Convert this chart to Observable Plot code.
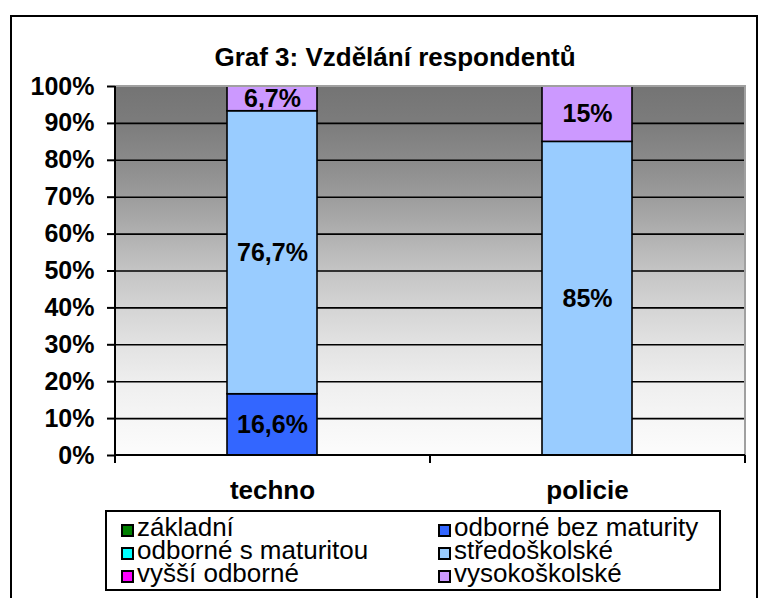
<!DOCTYPE html>
<html><head><meta charset="utf-8">
<script src="https://cdn.jsdelivr.net/npm/d3@7"></script>
<script src="https://cdn.jsdelivr.net/npm/@observablehq/plot@0.6"></script>
<style>
body{margin:0;background:#fff;font-family:Arial,"Liberation Sans",sans-serif;}
#wrap{position:relative;width:768px;height:598px;overflow:hidden;background:#fff;}
#frame{position:absolute;left:10px;top:15px;width:748px;height:620px;border:2px solid #000;box-sizing:border-box;}
#title{position:absolute;left:0;top:44px;width:790px;text-align:center;font-weight:bold;font-size:26px;line-height:26px;white-space:nowrap;}
#chart{position:absolute;left:0;top:0;}
#legend{position:absolute;left:105px;top:510px;width:616px;height:81px;border:2px solid #000;box-sizing:border-box;background:#fff;}
.item{position:absolute;font-size:26px;line-height:23px;white-space:nowrap;}
.sw{position:absolute;width:13px;height:13px;border:2px solid #000;box-sizing:border-box;}
</style>
</head><body>
<div id="wrap">
  <div id="frame"></div>
  <div id="title">Graf 3: Vzdělání respondentů</div>
  <div id="chart"></div>
  <div id="legend"></div>
</div>
<script>
const categories = ["techno", "policie"];
const series = ["základní", "odborné bez maturity", "odborné s maturitou", "středoškolské", "vyšší odborné", "vysokoškolské"];
const colors = ["#008000", "#3366FF", "#00FFFF", "#99CCFF", "#FF00FF", "#CC99FF"];
const technoValues = [0, 16.6, 0, 76.7, 0, 6.7];
const policieValues = [0, 0, 0, 85, 0, 15];
const yTicks = [0, 10, 20, 30, 40, 50, 60, 70, 80, 90, 100];

const valuesByCat = {techno: technoValues, policie: policieValues};
const data = [];
categories.forEach(c => series.forEach((s, i) => data.push({cat: c, series: s, value: valuesByCat[c][i]})));
const shown = data.filter(d => d.value > 0);
const fmt = v => String(v).replace(".", ",") + "%";

const W = 768, H = 510;
const gradStops = [[0, "#fcfcfc"], [0.1, "#f6f6f6"], [0.2, "#eeeeee"], [0.3, "#e2e2e2"], [0.4, "#d4d4d4"], [0.5, "#c4c4c4"], [0.6, "#b0b0b0"], [0.7, "#9c9c9c"], [0.8, "#8a8a8a"], [0.9, "#7c7c7c"], [1, "#747474"]];

function background(index, scales, values, dim) {
  const g = d3.create("svg:g");
  const x0 = dim.marginLeft, x1 = dim.width - dim.marginRight, y0 = dim.marginTop, y1 = dim.height - dim.marginBottom;
  const lg = g.append("defs").append("linearGradient").attr("id", "bgGrad").attr("x1", 0).attr("y1", 1).attr("x2", 0).attr("y2", 0);
  gradStops.forEach(([o, c]) => lg.append("stop").attr("offset", o).attr("stop-color", c));
  g.append("rect").attr("x", x0).attr("y", y0).attr("width", x1 - x0).attr("height", y1 - y0).attr("fill", "url(#bgGrad)");
  return g.node();
}
function frameLines(index, scales, values, dim) {
  const g = d3.create("svg:g");
  const x0 = dim.marginLeft, x1 = dim.width - dim.marginRight, y0 = dim.marginTop, y1 = dim.height - dim.marginBottom;
  g.append("path").attr("d", `M${x0},${y0}H${x1}V${y1}`).attr("fill", "none").attr("stroke", "#a0a0a0").attr("stroke-width", 2);
  g.append("line").attr("x1", x0).attr("x2", x0).attr("y1", y0).attr("y2", y1 + 8).attr("stroke", "#000").attr("stroke-width", 2);
  g.append("line").attr("x1", x0).attr("x2", x1).attr("y1", y1).attr("y2", y1).attr("stroke", "#000").attr("stroke-width", 2);
  const step = (x1 - x0) / categories.length;
  for (let i = 0; i <= categories.length; i++) {
    g.append("line").attr("x1", x0 + i * step).attr("x2", x0 + i * step).attr("y1", y1).attr("y2", y1 + 8).attr("stroke", "#000").attr("stroke-width", 2);
  }
  return g.node();
}

const plot = Plot.plot({
  width: W, height: H,
  marginTop: 86, marginBottom: 55, marginLeft: 115, marginRight: 23,
  style: {overflow: "visible", background: "transparent", fontFamily: "Arial, 'Liberation Sans', sans-serif", fontWeight: "bold", color: "#000"},
  x: {domain: categories, paddingInner: 0.714, paddingOuter: 0.357},
  y: {domain: [0, 100]},
  color: {domain: series, range: colors},
  marks: [
    background,
    Plot.ruleY(yTicks.filter(t => t > 0 && t < 100), {stroke: "#000", strokeWidth: 1.6}),
    Plot.barY(shown, {x: "cat", y: "value", fill: "series", z: "series", order: series, stroke: "#000", strokeWidth: 1.6}),
    Plot.text(shown, Plot.stackY({x: "cat", y: "value", z: "series", order: series, text: d => fmt(d.value), fontSize: 25, fontWeight: "bold", fill: "#000"})),
    frameLines,
    Plot.axisY({ticks: yTicks, tickSize: 8, tickPadding: 13, tickFormat: d => d + "%", fontSize: 25, fontWeight: "bold", stroke: "#000", strokeWidth: 2, strokeOpacity: 1, label: null}),
    Plot.axisX({tickSize: 0, tickPadding: 25, fontSize: 26, fontWeight: "bold", label: null})
  ]
});
document.getElementById("chart").appendChild(plot);

const legend = document.getElementById("legend");
series.forEach((s, i) => {
  const col = i % 2, row = Math.floor(i / 2);
  const left = col === 0 ? 14 : 331;
  const top = 4 + row * 23;
  const sw = document.createElement("div");
  sw.className = "sw";
  sw.style.left = left + "px";
  sw.style.top = (top + 8) + "px";
  sw.style.background = colors[i];
  legend.appendChild(sw);
  const t = document.createElement("div");
  t.className = "item";
  t.style.left = (left + 16) + "px";
  t.style.top = top + "px";
  t.textContent = s;
  legend.appendChild(t);
});
</script>
</body></html>
